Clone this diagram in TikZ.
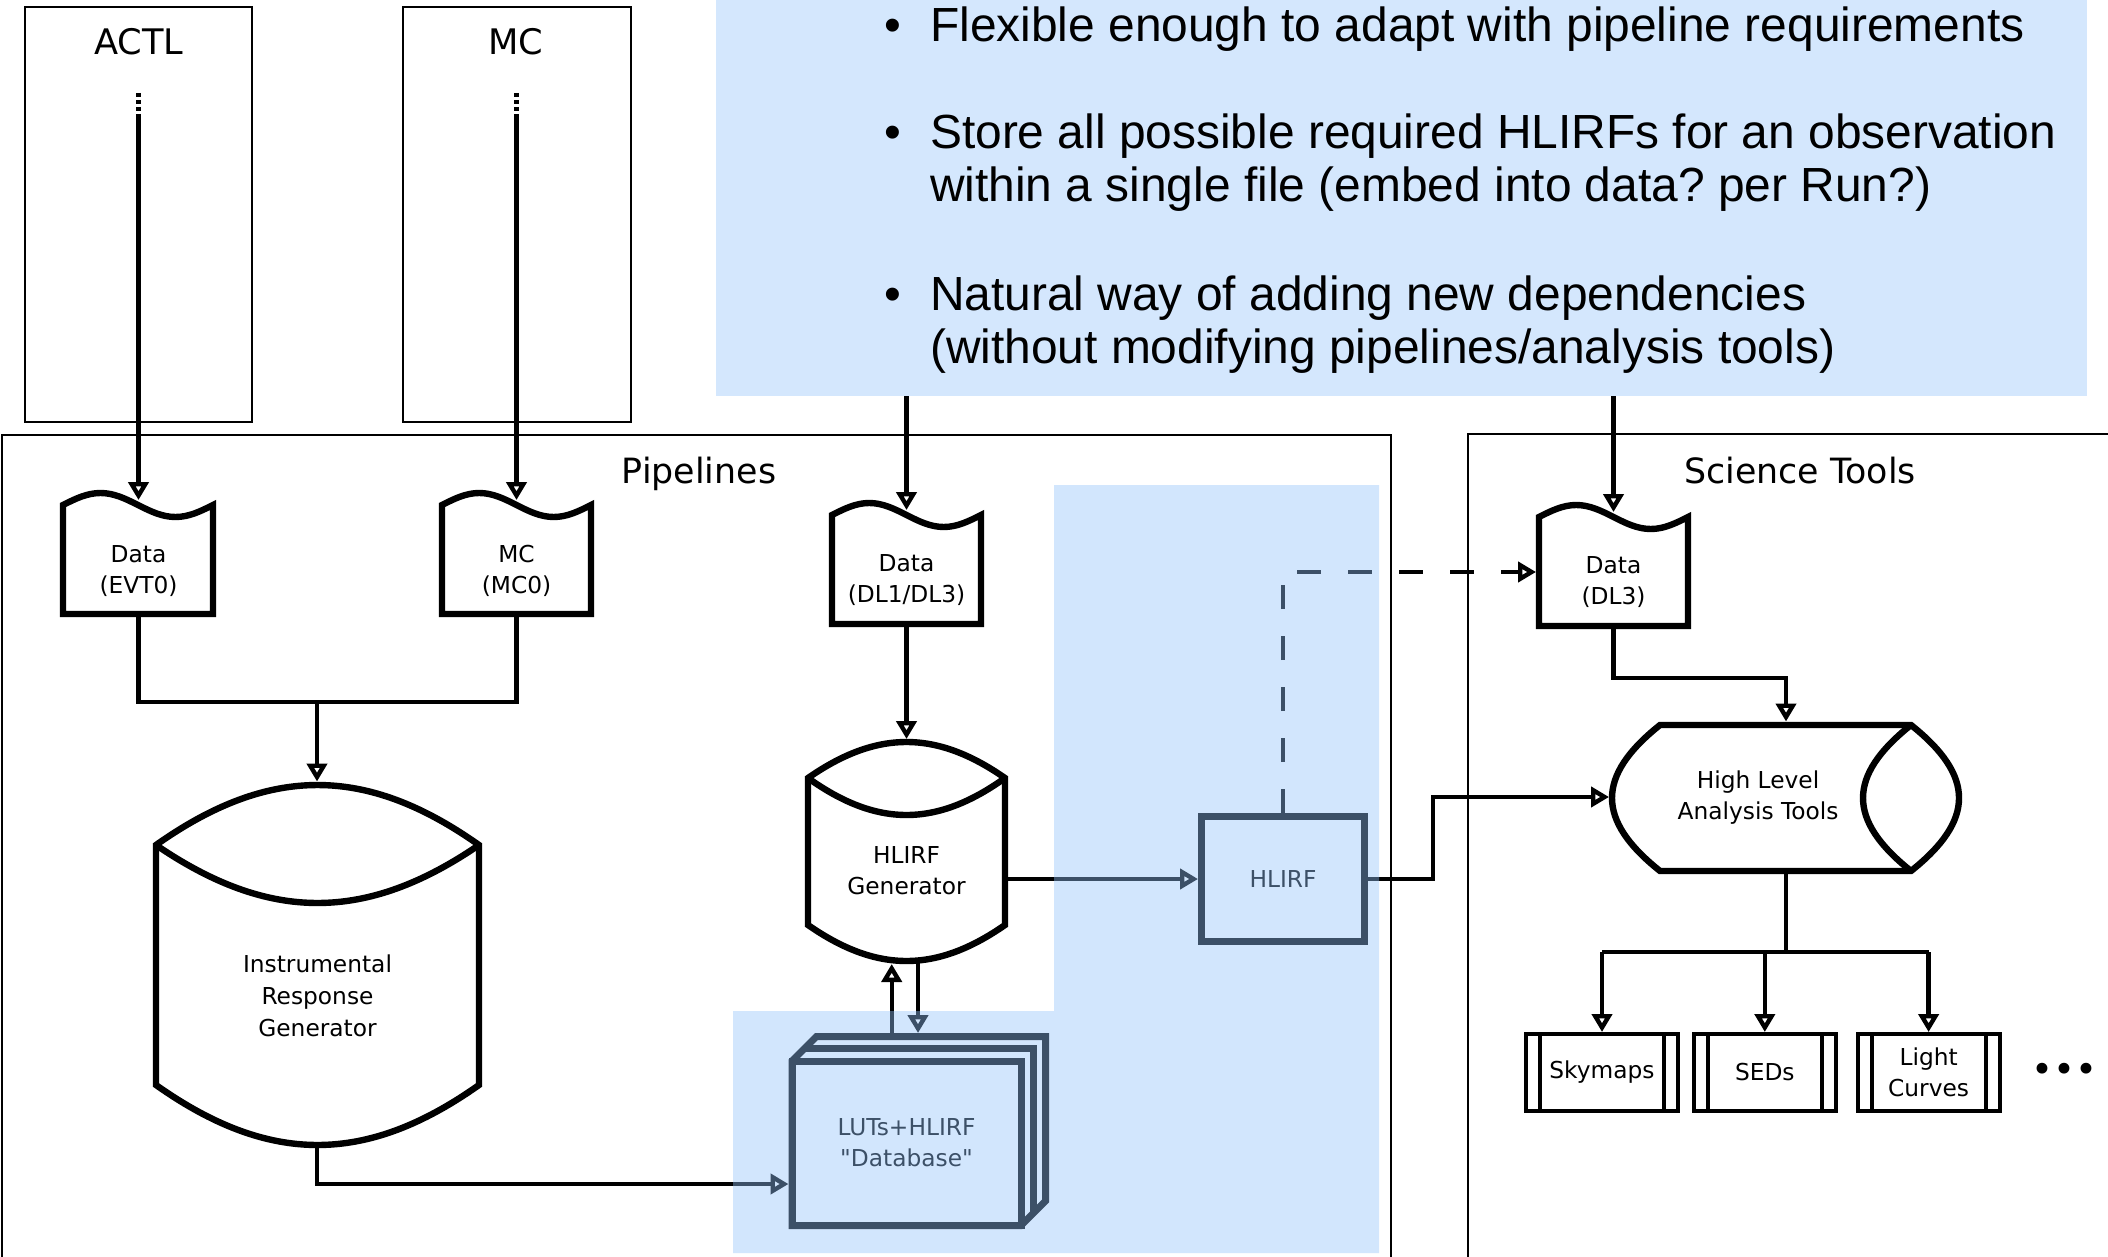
\documentclass[tikz,border=0pt]{standalone}
\usepackage{fontspec}
\setmainfont{DejaVu Sans}[Ligatures=TeXOff]
\newfontfamily\bulletfont{Liberation Sans}
\usetikzlibrary{arrows.meta}
\definecolor{paleblue}{RGB}{212,231,253}
\definecolor{veil}{RGB}{148,196,252}
\frenchspacing

% tape (punched data) outline: left, right, top line, bottom, wave amplitude
\newcommand\tapeshape[5]{%
  \path[solidshape] (#1,#3) sin ({#1+(#2-#1)/4},{#3-#5}) cos ({(#1+#2)/2},#3)
    sin ({#1+3*(#2-#1)/4},{#3+#5}) cos (#2,#3) -- (#2,#4) -- (#1,#4) -- cycle;}
% upright drum: left, right, upper rim, upper bulge, inner bulge, lower rim, lower bulge
\newcommand\drumshape[7]{%
  \path[solidshape] (#1,#3) .. controls ({#1+0.35*(#2-#1)},{#3-1.333*#4}) and ({#2-0.35*(#2-#1)},{#3-1.333*#4}) .. (#2,#3)
    -- (#2,#6) .. controls ({#2-0.35*(#2-#1)},{#6+1.333*#7}) and ({#1+0.35*(#2-#1)},{#6+1.333*#7}) .. (#1,#6) -- cycle;
  \draw[solidshape,fill=none] (#1,#3) .. controls ({#1+0.35*(#2-#1)},{#3+1.333*#5}) and ({#2-0.35*(#2-#1)},{#3+1.333*#5}) .. (#2,#3);}

\begin{document}
\begin{tikzpicture}[x=0.5pt,y=-0.5pt,
  outlinebox/.style={draw=black,line width=1pt},
  conn/.style={draw=black,line width=2.2pt},
  arr/.style={conn,-{Triangle[open,length=9pt,width=10pt]}},
  solidshape/.style={draw=black,fill=white,line width=3.2pt},
  lbl/.style={font=\fontsize{11.65}{15.5}\selectfont,align=center,inner sep=0pt},
  heading/.style={font=\fontsize{17.4}{20}\selectfont,inner sep=0pt,anchor=base},
  note/.style={font=\bulletfont\fontsize{23.95}{26.65}\selectfont,inner sep=0pt,anchor=base west},
  dotmark/.style={font=\bulletfont\fontsize{23.95}{26.65}\selectfont,inner sep=0pt,anchor=base},
  procbox/.style={draw=black,fill=white,line width=2pt,minimum height=38.5pt,inner sep=0pt,
    font=\fontsize{11.65}{15.5}\selectfont,align=center,
    path picture={\draw[line width=2pt]
      ([xshift=7pt]path picture bounding box.north west) -- ([xshift=7pt]path picture bounding box.south west)
      ([xshift=-7pt]path picture bounding box.north east) -- ([xshift=-7pt]path picture bounding box.south east);}},
]
\clip (0,0) rectangle (2108,1257);
\fill[white] (0,0) rectangle (2108,1257);

% sources
\draw[outlinebox] (25,7) rectangle (252,422);
\node[heading,font=\fontsize{17.6}{20}\selectfont] (actl) at (139,55) {ACTL};
\draw[outlinebox] (403,7) rectangle (631,422);
\node[heading,font=\fontsize{17.6}{20}\selectfont] (mc) at (516,55) {MC};

% requirement notes
\fill[paleblue] (716,-10) rectangle (2087,396);
\node[dotmark] (m1) at (893,41.7) {•};
\node[note] (t1) at (929.7,41.7) {Flexible enough to adapt with pipeline requirements};
\node[dotmark] (m2) at (893,148.3) {•};
\node[note] (t2) at (929.7,148.3) {Store all possible required HLIRFs for an observation};
\node[note] (t2b) at (929.7,201.7) {within a single file (embed into data? per Run?)};
\node[dotmark] (m3) at (893,310) {•};
\node[note] (t3) at (929.7,310) {Natural way of adding new dependencies};
\node[note] (t3b) at (929.7,363) {(without modifying pipelines/analysis tools)};

% group frames
\draw[outlinebox] (2,435) rectangle (1391,1300);
\node[heading] (pipe) at (699,483) {Pipelines};
\draw[outlinebox] (1468,434) rectangle (2200,1300);
\node[heading] (sci) at (1800,483) {Science Tools};

% data files
\tapeshape{63}{213}{505}{614}{12}
\node[lbl] (evt) at (138.5,571) {Data\\(EVT0)};
\tapeshape{442}{591}{505}{614}{12}
\node[lbl] (mc0) at (516.5,571) {MC\\(MC0)};
\tapeshape{832}{981}{515}{624}{12}
\node[lbl] (dl1) at (906.5,580) {Data\\(DL1/DL3)};
\tapeshape{1539}{1688}{517}{626}{12}
\node[lbl] (dl3) at (1613.5,582) {Data\\(DL3)};

% generators
\drumshape{156}{479}{845}{60}{58}{1085}{60}
\node[lbl,font=\fontsize{11.65}{16}\selectfont] (irg) at (317.5,996) {Instrumental\\Response\\Generator};
\drumshape{808}{1005}{778}{36}{37}{925}{36}
\node[lbl] (gen) at (906.5,871) {HLIRF\\Generator};

% database stack
\path[solidshape,line width=3.5pt] (792,1225.5) -- (792,1061) -- (816.5,1036.5) -- (1045.5,1036.5)
  -- (1045.5,1201) -- (1021,1225.5) -- cycle;
\draw[line width=3.5pt] (804.25,1048.75) -- (1033.25,1048.75) -- (1033.25,1213.25);
\draw[solidshape,line width=3.5pt] (792,1061) rectangle (1021,1225.5);
\node[lbl] (db) at (906.5,1143) {LUTs+HLIRF\\"Database"};

% response file
\node[draw=black,fill=white,line width=3.5pt,minimum width=81.5pt,minimum height=62.5pt,lbl] (hlirf) at (1283,879) {HLIRF};

% analysis tools
\path[solidshape] (1660,725) -- (1911,725) .. controls (1975,776) and (1975,820) .. (1911,871)
  -- (1660,871) .. controls (1596,820) and (1596,776) .. (1660,725) -- cycle;
\draw[solidshape,fill=none] (1911,725) .. controls (1847,776) and (1847,820) .. (1911,871);
\node[lbl] (hlat) at (1758,798) {High Level\\Analysis Tools};

\node[procbox,minimum width=76pt] (sky) at (1602,1072.5) {Skymaps};
\node[procbox,minimum width=70.8pt] (sed) at (1764.8,1072.5) {SEDs};
\node[procbox,minimum width=71pt] (lc) at (1928.6,1072.5) {Light\\Curves};
\node[font=\fontsize{18.6}{20}\selectfont,inner sep=0pt,anchor=base] (more) at (2064,1082) {•••};

% connector end points
\coordinate (actl-dot) at (138.5,93);
\coordinate (actl-out) at (138.5,117);
\coordinate (evt-n) at (138.5,500);
\coordinate (mc-dot) at (516.5,93);
\coordinate (mc-out) at (516.5,117);
\coordinate (mc0-n) at (516.5,500);
\coordinate (evt-s) at (138.5,616);
\coordinate (mc0-s) at (516.5,616);
\coordinate (join) at (317,702);
\coordinate (irg-n) at (317,781.5);
\coordinate (irg-s) at (317,1147);
\coordinate (db-w) at (788.5,1184);
\coordinate (box-a) at (906.5,396);
\coordinate (dl1-n) at (906.5,510);
\coordinate (box-b) at (1613.5,396);
\coordinate (dl3-n) at (1613.5,512);
\coordinate (dl1-s) at (906.5,626);
\coordinate (gen-n) at (906.5,739);
\coordinate (gen-e) at (1008,879);
\coordinate (gen-s1) at (891.7,964);
\coordinate (gen-s2) at (918,962);
\coordinate (db-n1) at (891.7,1033);
\coordinate (db-n2) at (918,1033);
\coordinate (dl3-w) at (1536,572);
\coordinate (hop) at (1433,797);
\coordinate (hlat-w) at (1609,797);
\coordinate (dl3-s) at (1613.5,628);
\coordinate (turn) at (1786,678);
\coordinate (hlat-n) at (1786,721.5);
\coordinate (hlat-s) at (1786,874);
\coordinate (busj) at (1786,952);
\coordinate (busl) at (1602,952);
\coordinate (busm) at (1764.8,952);
\coordinate (busr) at (1928.6,952);

% connectors
\draw[conn,dash pattern=on 2pt off 1.5pt] (actl-dot) -- (actl-out);
\draw[arr] (actl-out) -- (evt-n);
\draw[conn,dash pattern=on 2pt off 1.5pt] (mc-dot) -- (mc-out);
\draw[arr] (mc-out) -- (mc0-n);
\draw[conn] (evt-s) |- (join) -| (mc0-s);
\draw[arr] (join) -- (irg-n);
\draw[arr] (irg-s) |- (db-w);
\draw[arr] (box-a) -- (dl1-n);
\draw[arr] (box-b) -- (dl3-n);
\draw[arr] (dl1-s) -- (gen-n);
\draw[arr] (gen-e) -- (hlirf.west);
\draw[arr] (db-n1) -- (gen-s1);
\draw[arr] (gen-s2) -- (db-n2);
\draw[arr,dash pattern=on 12pt off 13.5pt] (hlirf.north) |- (dl3-w);
\draw[arr] (hlirf.east) -| (hop) -- (hlat-w);
\draw[arr] (dl3-s) |- (turn) -- (hlat-n);
\draw[conn] (hlat-s) -- (busj);
\draw[conn] (busl) -- (busr);
\draw[arr] (busl) -- (sky.north);
\draw[arr] (busm) -- (sed.north);
\draw[arr] (busr) -- (lc.north);

% translucent highlight over the response-function area
\fill[veil,fill opacity=0.41] (733,1011) -- (1054,1011) -- (1054,485) -- (1379,485)
  -- (1379,1253) -- (733,1253) -- cycle;
\end{tikzpicture}
\end{document}
